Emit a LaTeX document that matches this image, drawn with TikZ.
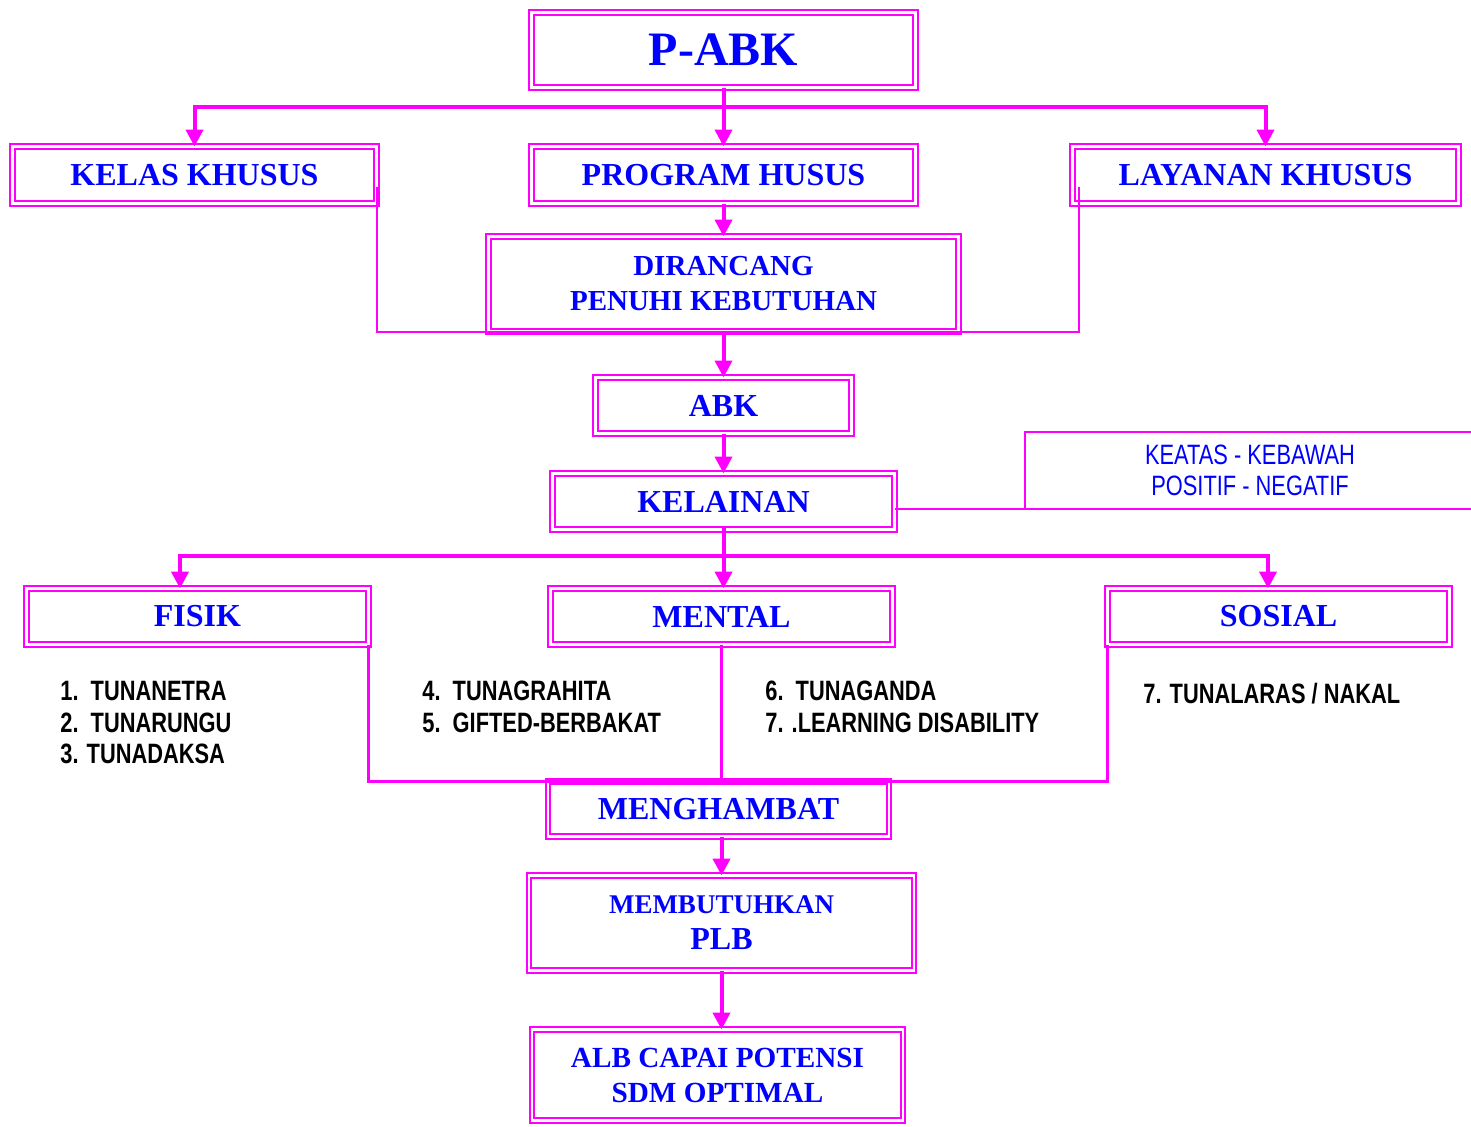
\documentclass[tikz,border=0pt]{standalone}
\usepackage{fontspec}
\setmainfont{Liberation Serif}
\newfontfamily\narrowsf[FakeStretch=0.78]{Liberation Sans}
\usetikzlibrary{arrows.meta,positioning}
\definecolor{mag}{RGB}{255,0,255}
\definecolor{blu}{RGB}{0,0,255}

\begin{document}
\begin{tikzpicture}[
        x=0.5pt, y=-0.5pt,
        block/.style={draw=mag, line width=1pt, double=white, double distance=1.3pt, outer sep=0pt, inner sep=0pt, minimum height=28pt, text=blu, align=center, font=\bfseries\fontsize{16}{19}\selectfont},
        note/.style={draw=mag, line width=1pt, outer sep=0pt, inner sep=0pt, text=blu, align=center, font=\narrowsf\fontsize{14}{15.5}\selectfont},
        list/.style={anchor=north west, inner sep=0pt, align=left, font=\narrowsf\bfseries\fontsize{14}{15.75}\selectfont},
        arrow/.style={draw=mag, line width=2pt, -{Triangle[width=8.5pt,length=8.5pt]}},
        bar/.style={draw=mag, line width=2pt, line cap=rect},
        link/.style={draw=mag, line width=1pt},
        joint/.style={draw=mag, line width=1.5pt}
    ]
    \useasboundingbox (0,0) rectangle (1471,1126);
    \clip (0,0) rectangle (1471,1126);

    % Nodes
    \node[block, minimum width=192pt, minimum height=37.5pt, font=\bfseries\fontsize{24}{28}\selectfont] (pabk) at (723.5,50) {P-ABK};
    \node[block, minimum width=192pt, minimum height=28.5pt, below=29.5pt of pabk] (program) {PROGRAM HUSUS};
    \node[block, minimum width=182pt, minimum height=28.5pt, left=77.5pt of program] (kelas) {KELAS KHUSUS};
    \node[block, minimum width=193pt, minimum height=28.5pt, right=78.5pt of program] (layanan) {LAYANAN KHUSUS};
    \node[block, minimum width=235pt, minimum height=47.5pt, below=16.5pt of program, font=\bfseries\fontsize{14.5}{17.5}\selectfont] (dirancang) {DIRANCANG\\PENUHI KEBUTUHAN};
    \node[block, minimum width=128pt, below=23pt of dirancang] (abk) {ABK};
    \node[block, minimum width=171pt, below=20pt of abk] (kelainan) {KELAINAN};
    \node[note, minimum width=225pt, minimum height=38.5pt, right=65.25pt of kelainan, yshift=15.5pt] (keatas) {KEATAS - KEBAWAH\\POSITIF - NEGATIF};
    \node[block, minimum width=171pt, below=29.5pt of kelainan, xshift=-1pt] (mental) {MENTAL};
    \node[block, minimum width=171pt, left=91pt of mental] (fisik) {FISIK};
    \node[block, minimum width=171pt, right=107.5pt of mental] (sosial) {SOSIAL};
    \node[list] (fisiklist) at (60,681) {1.\ \ TUNANETRA\\2.\ \ TUNARUNGU\\3. TUNADAKSA};
    \node[list] (mentallist) at (422,681) {4.\ \ TUNAGRAHITA\\5.\ \ GIFTED-BERBAKAT};
    \node[list] (gandalist) at (765,681) {6.\ \ TUNAGANDA\\7. .LEARNING DISABILITY};
    \node[list] (sosiallist) at (1143,683) {7. TUNALARAS / NAKAL};
    \node[block, minimum width=170.5pt, minimum height=27.5pt, below=68.5pt of mental, xshift=-1.5pt] (menghambat) {MENGHAMBAT};
    \node[block, minimum width=192.5pt, minimum height=47.5pt, below=19.5pt of menghambat, xshift=1.5pt, font=\bfseries\fontsize{13.5}{18}\selectfont] (membutuhkan) {MEMBUTUHKAN\\{\fontsize{16}{18}\selectfont PLB}};
    \node[block, minimum width=185.5pt, minimum height=45.5pt, below=29.5pt of membutuhkan, xshift=-2pt, font=\bfseries\fontsize{14.6}{17.5}\selectfont] (alb) {ALB CAPAI POTENSI\\SDM OPTIMAL};

    \coordinate (topbar) at (723.5,107);
    \coordinate (lbar) at (180,556);
    \coordinate (midbar) at (723.5,556);
    \coordinate (rbar) at (1268,556);

    % Arrows
    \draw[bar] (kelas.north |- topbar) -- (layanan.north |- topbar);
    \draw[arrow] (pabk) -- (program);
    \draw[arrow] (kelas.north |- topbar) -- (kelas.north);
    \draw[arrow] (layanan.north |- topbar) -- (layanan.north);
    \draw[arrow] (program) -- (dirancang);
    \draw[link] ([yshift=-6pt]kelas.east) |- (dirancang.south) -| ([xshift=3pt,yshift=-6pt]layanan.west);
    \draw[arrow] (dirancang) -- (abk);
    \draw[arrow] (abk) -- (kelainan);
    \draw[link] (kelainan.east |- keatas.south west) -- (keatas.south west);
    \draw[bar] (kelainan) -- (midbar);
    \draw[bar] (lbar) -- (rbar);
    \draw[arrow] (lbar) -- (lbar |- fisik.north);
    \draw[arrow] (midbar) -- (midbar |- mental.north);
    \draw[arrow] (rbar) -- (rbar |- sosial.north);
    \draw[joint] (fisik.south east) |- (menghambat.north) -| (sosial.south west);
    \draw[joint] (mental) -- (mental |- menghambat.north);
    \draw[arrow] (membutuhkan.north |- menghambat.south) -- (membutuhkan.north);
    \draw[arrow] (membutuhkan) -- (membutuhkan |- alb.north);

\end{tikzpicture}
\end{document}
